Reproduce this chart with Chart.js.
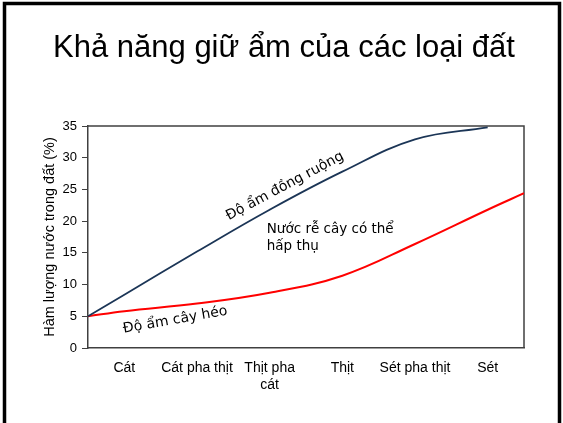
<!DOCTYPE html>
<html>
<head>
<meta charset="utf-8">
<script src="https://cdn.jsdelivr.net/npm/chart.js@4/dist/chart.umd.min.js"></script>
<style>
    html, body { margin: 0; padding: 0; background: #fff; }
    #wrap { width: 563px; height: 423px; }
</style>
</head>
<body>
<div id="wrap"><canvas id="soilChart"></canvas></div>
<script>
// loại đất (tick labels sit in the middle of each band)
const soilTypes = ['Cát', 'Cát pha thịt', ['Thịt pha', 'cát'], 'Thịt', 'Sét pha thịt', 'Sét'];
const soilTickPositions = [0.5, 1.5, 2.5, 3.5, 4.5, 5.5];

// points
const samplePositions = [0, 0.5, 1.5, 2.5, 3.5, 4.5, 5.5, 6];
const fieldCapacity = [5, 8.4, 15.2, 21.8, 27.8, 32.9, 34.8, null];   // Độ ẩm đồng ruộng
const wiltingPoint = [5, 5.8, 7.0, 8.7, 11.4, 16.4, 21.8, 24.4];      // Độ ẩm cây héo

const yMin = 0;
const yMax = 35;
const yStep = 5;

const axisColor = '#404040';
const navy = '#1B3556';
const red = '#FF0000';

function toPoints(values) {
    const pts = [];
    values.forEach((v, i) => {
        if (v !== null) pts.push({ x: samplePositions[i], y: v });
    });
    return pts;
}

const slidePlugin = {
    id: 'slideDecor',
    beforeDatasetsDraw: function (chart) {
        const ctx = chart.ctx;
        const a = chart.chartArea;
        ctx.save();
        ctx.strokeStyle = axisColor;
        ctx.lineWidth = 1.5;
        ctx.beginPath();
        ctx.moveTo(a.left, a.top);
        ctx.lineTo(a.right, a.top);
        ctx.lineTo(a.right, a.bottom);
        ctx.stroke();
        ctx.restore();
    },
    afterDraw: function (chart) {
        const ctx = chart.ctx;
        const x = chart.scales.x;
        const y = chart.scales.y;
        ctx.save();

        // slide frame
        ctx.strokeStyle = '#000';
        ctx.lineWidth = 3.5;
        ctx.beginPath();
        ctx.moveTo(4.5, 430);
        ctx.lineTo(4.5, 3.5);
        ctx.lineTo(559.5, 3.5);
        ctx.lineTo(559.5, 430);
        ctx.stroke();

        // title
        ctx.fillStyle = '#000';
        ctx.font = '31px "Liberation Sans", Arial, sans-serif';
        ctx.textAlign = 'center';
        ctx.textBaseline = 'alphabetic';
        ctx.fillText('Khả năng giữ ẩm của các loại đất', 284, 57);

        // curve labels
        ctx.font = '14px "DejaVu Sans", Verdana, sans-serif';
        ctx.textBaseline = 'middle';

        ctx.save();
        ctx.translate(x.getPixelForValue(2.71), y.getPixelForValue(25.5));
        ctx.rotate(-28 * Math.PI / 180);
        ctx.fillText('Độ ẩm đồng ruộng', 0, 0);
        ctx.restore();

        ctx.save();
        ctx.translate(x.getPixelForValue(1.2), y.getPixelForValue(4.4));
        ctx.rotate(-10 * Math.PI / 180);
        ctx.fillText('Độ ẩm cây héo', 0, 0);
        ctx.restore();

        ctx.font = '13.5px "DejaVu Sans", Verdana, sans-serif';
        ctx.textAlign = 'left';
        ctx.fillText('Nước rễ cây có thể', x.getPixelForValue(2.46), y.getPixelForValue(18.7));
        ctx.fillText('hấp thụ', x.getPixelForValue(2.46), y.getPixelForValue(16.0));

        ctx.restore();
    }
};

const ctx = document.getElementById('soilChart');
new Chart(ctx, {
    type: 'line',
    data: {
        datasets: [
            {
                label: 'Độ ẩm đồng ruộng',
                data: toPoints(fieldCapacity),
                borderColor: navy,
                borderWidth: 1.8,
                pointRadius: 0,
                tension: 0.4,
                fill: false
            },
            {
                label: 'Độ ẩm cây héo',
                data: toPoints(wiltingPoint),
                borderColor: red,
                borderWidth: 2,
                pointRadius: 0,
                tension: 0.4,
                fill: false
            }
        ]
    },
    options: {
        responsive: true,
        maintainAspectRatio: false,
        animation: false,
        layout: {
            padding: { top: 126, right: 39, bottom: 0, left: 0 }
        },
        plugins: {
            legend: { display: false },
            tooltip: { enabled: false }
        },
        scales: {
            x: {
                type: 'linear',
                min: 0,
                max: 6,
                afterBuildTicks: function (scale) {
                    scale.ticks = soilTickPositions.map(v => ({ value: v }));
                },
                afterFit: function (scale) {
                    scale.height = 75;
                },
                grid: { display: false },
                border: { display: true, color: axisColor, width: 1.5 },
                ticks: {
                    autoSkip: false,
                    maxRotation: 0,
                    padding: 4,
                    color: '#000',
                    font: { family: '"Liberation Sans", Arial, sans-serif', size: 14 },
                    callback: function (value, index) {
                        return soilTypes[index];
                    }
                }
            },
            y: {
                min: yMin,
                max: yMax,
                afterFit: function (scale) {
                    scale.width = 88;
                },
                grid: {
                    display: true,
                    drawOnChartArea: false,
                    drawTicks: true,
                    tickLength: 6,
                    color: axisColor
                },
                border: { display: true, color: axisColor, width: 1.5 },
                ticks: {
                    stepSize: yStep,
                    padding: 5,
                    color: '#000',
                    font: { family: '"Liberation Sans", Arial, sans-serif', size: 13 }
                },
                title: {
                    display: true,
                    text: 'Hàm lượng nước trong đất (%)',
                    color: '#000',
                    padding: { top: 41, bottom: 0 },
                    font: { family: '"Liberation Sans", Arial, sans-serif', size: 14.5 }
                }
            }
        }
    },
    plugins: [slidePlugin]
});
</script>
</body>
</html>
